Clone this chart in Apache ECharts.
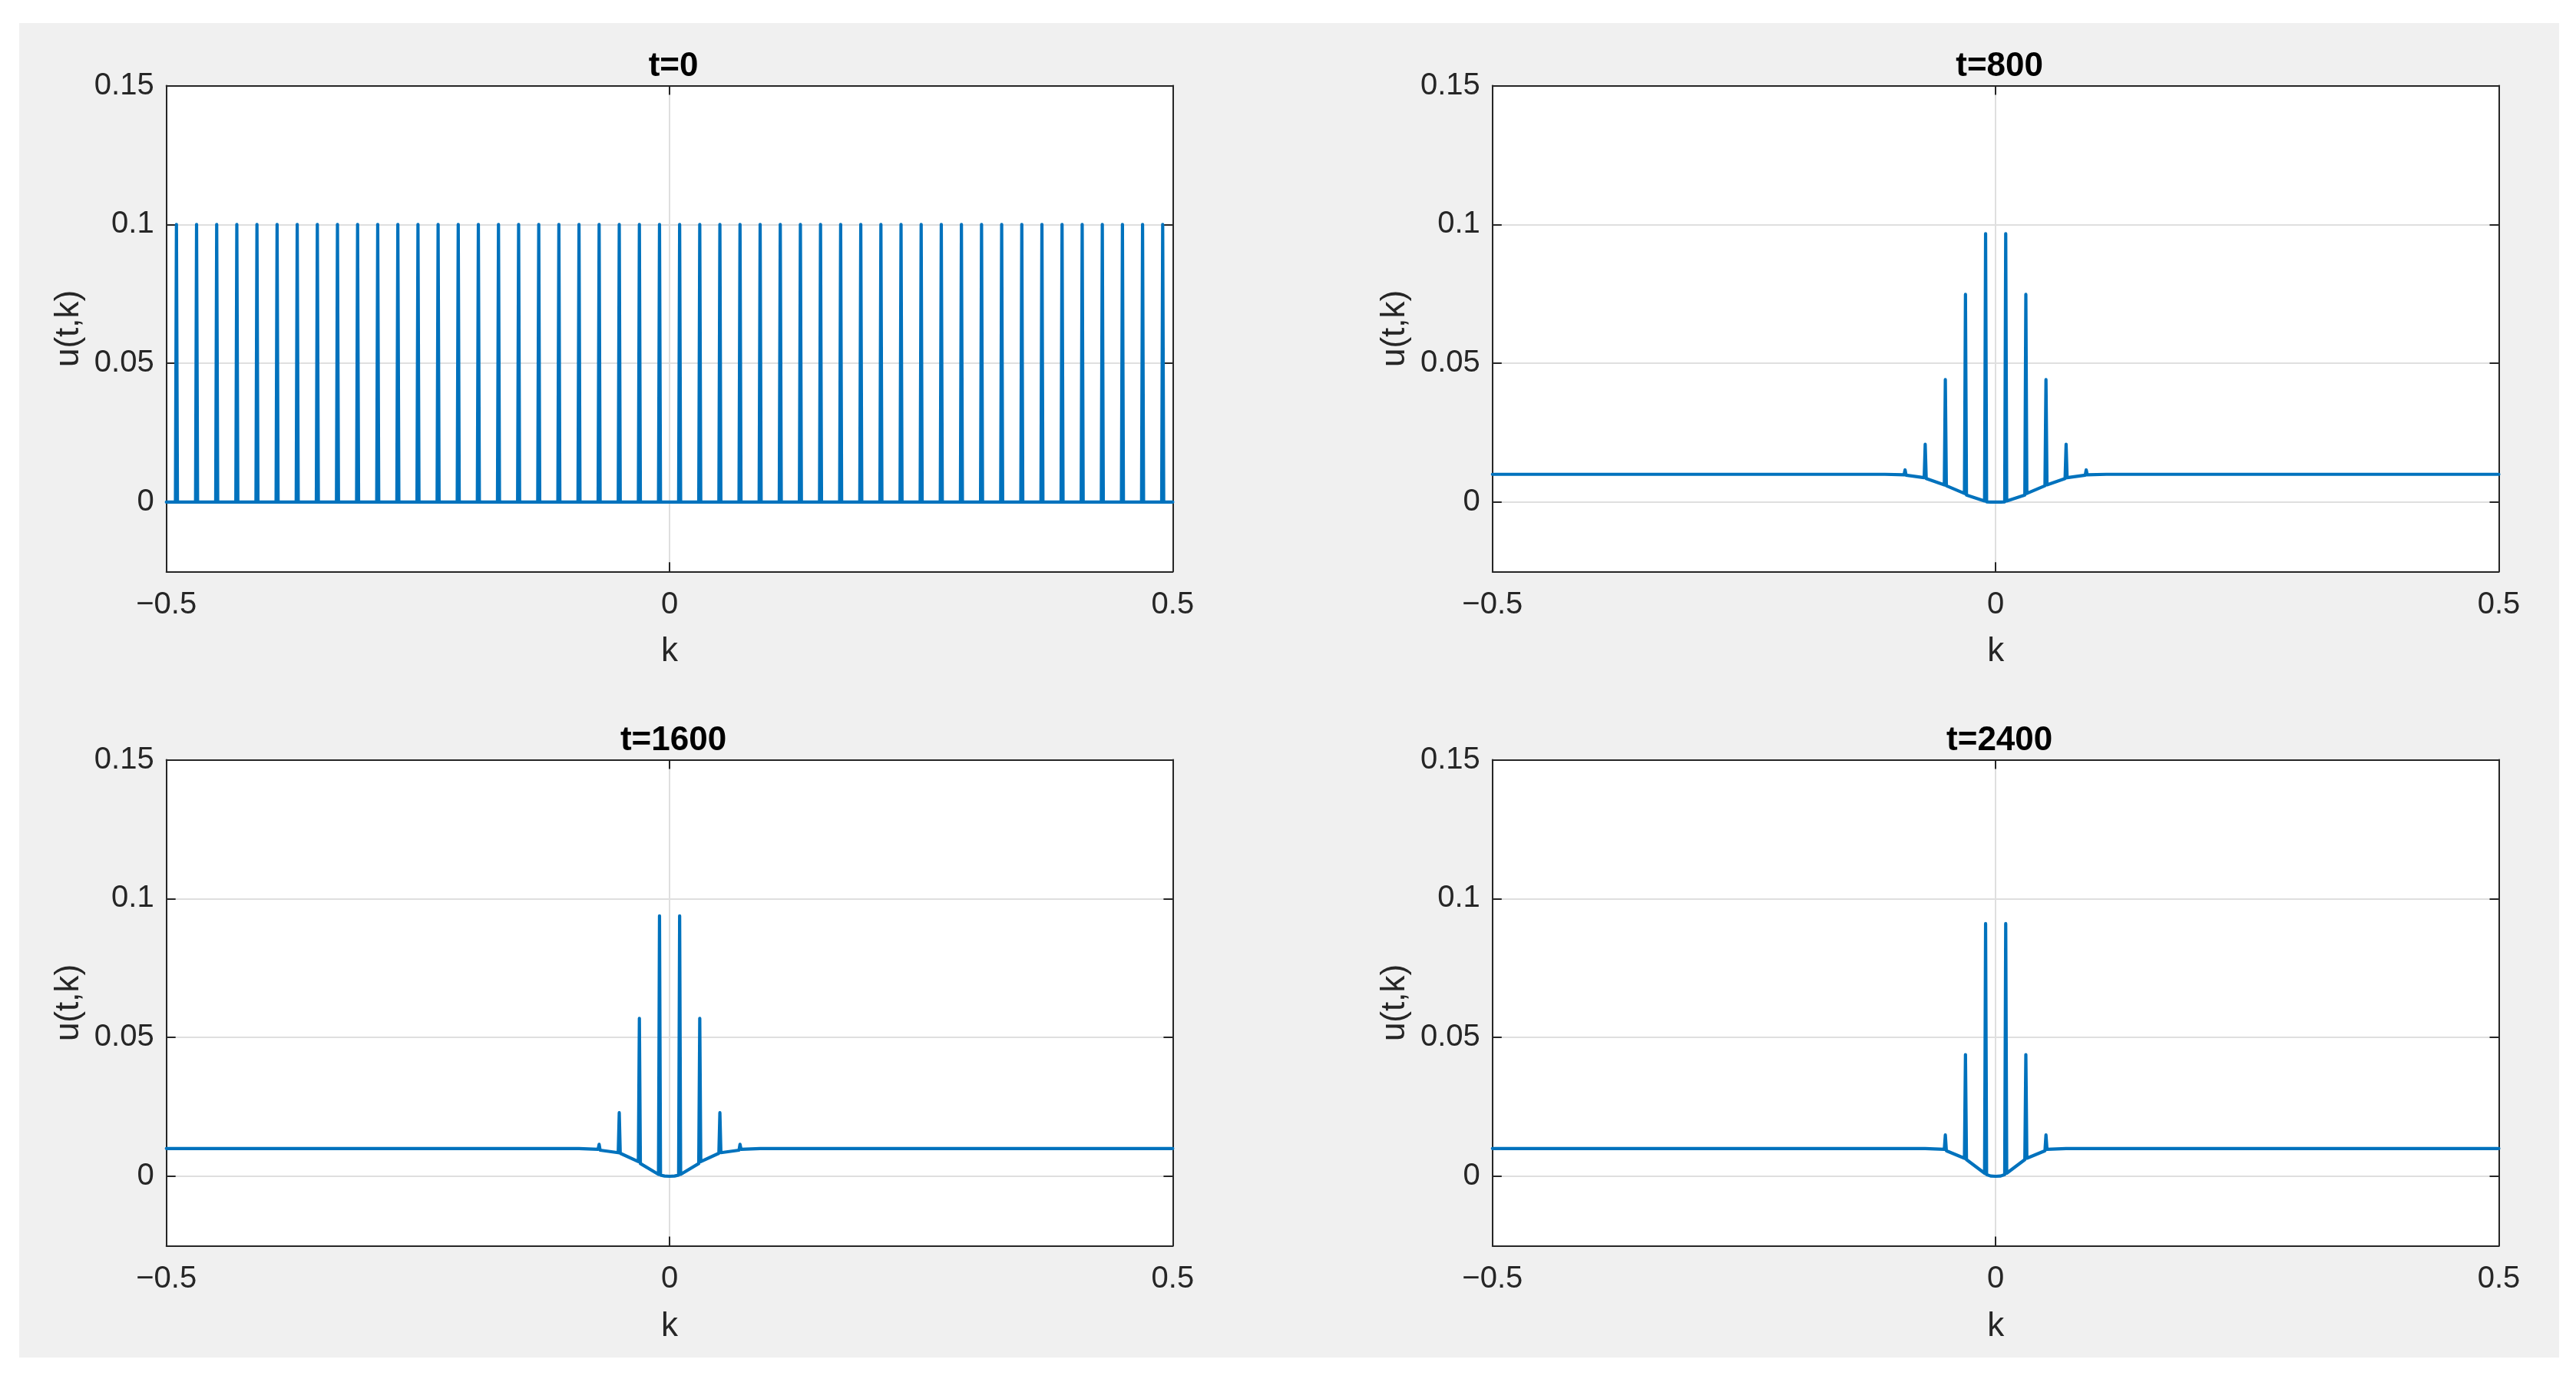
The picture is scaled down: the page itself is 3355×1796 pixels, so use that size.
<!DOCTYPE html>
<html>
<head>
<meta charset="utf-8">
<script src="https://cdn.jsdelivr.net/npm/echarts@6/dist/echarts.min.js"></script>
<style>
html,body{margin:0;padding:0;background:#fff;width:3355px;height:1796px;overflow:hidden}
#bg{position:absolute;left:25px;top:30px;width:3308px;height:1738px;background:#f0f0f0}
#main{position:absolute;left:0;top:0;width:3355px;height:1796px}
</style>
</head>
<body>
<div id="bg"></div>
<div id="main"></div>
<script>
// ---------------- data ----------------
const titles = ['t=0', 't=800', 't=1600', 't=2400'];
const xLabel = 'k';
const yLabel = 'u(t,k)';

// t = 0 : spikes of height 0.1 every 0.02
const kT0 = [-0.5,
 -0.491,-0.49,-0.489, -0.471,-0.47,-0.469, -0.451,-0.45,-0.449, -0.431,-0.43,-0.429, -0.411,-0.41,-0.409,
 -0.391,-0.39,-0.389, -0.371,-0.37,-0.369, -0.351,-0.35,-0.349, -0.331,-0.33,-0.329, -0.311,-0.31,-0.309,
 -0.291,-0.29,-0.289, -0.271,-0.27,-0.269, -0.251,-0.25,-0.249, -0.231,-0.23,-0.229, -0.211,-0.21,-0.209,
 -0.191,-0.19,-0.189, -0.171,-0.17,-0.169, -0.151,-0.15,-0.149, -0.131,-0.13,-0.129, -0.111,-0.11,-0.109,
 -0.091,-0.09,-0.089, -0.071,-0.07,-0.069, -0.051,-0.05,-0.049, -0.031,-0.03,-0.029, -0.011,-0.01,-0.009,
 0.009,0.01,0.011, 0.029,0.03,0.031, 0.049,0.05,0.051, 0.069,0.07,0.071, 0.089,0.09,0.091,
 0.109,0.11,0.111, 0.129,0.13,0.131, 0.149,0.15,0.151, 0.169,0.17,0.171, 0.189,0.19,0.191,
 0.209,0.21,0.211, 0.229,0.23,0.231, 0.249,0.25,0.251, 0.269,0.27,0.271, 0.289,0.29,0.291,
 0.309,0.31,0.311, 0.329,0.33,0.331, 0.349,0.35,0.351, 0.369,0.37,0.371, 0.389,0.39,0.391,
 0.409,0.41,0.411, 0.429,0.43,0.431, 0.449,0.45,0.451, 0.469,0.47,0.471, 0.489,0.49,0.491,
 0.5];
const uT0 = [0,
 0,0.1,0, 0,0.1,0, 0,0.1,0, 0,0.1,0, 0,0.1,0,
 0,0.1,0, 0,0.1,0, 0,0.1,0, 0,0.1,0, 0,0.1,0,
 0,0.1,0, 0,0.1,0, 0,0.1,0, 0,0.1,0, 0,0.1,0,
 0,0.1,0, 0,0.1,0, 0,0.1,0, 0,0.1,0, 0,0.1,0,
 0,0.1,0, 0,0.1,0, 0,0.1,0, 0,0.1,0, 0,0.1,0,
 0,0.1,0, 0,0.1,0, 0,0.1,0, 0,0.1,0, 0,0.1,0,
 0,0.1,0, 0,0.1,0, 0,0.1,0, 0,0.1,0, 0,0.1,0,
 0,0.1,0, 0,0.1,0, 0,0.1,0, 0,0.1,0, 0,0.1,0,
 0,0.1,0, 0,0.1,0, 0,0.1,0, 0,0.1,0, 0,0.1,0,
 0,0.1,0, 0,0.1,0, 0,0.1,0, 0,0.1,0, 0,0.1,0,
 0];

// t = 800
const kT800 = [-0.5, -0.11, -0.091, -0.09, -0.089, -0.071, -0.07, -0.069, -0.051, -0.05, -0.049,
 -0.031, -0.03, -0.029, -0.011, -0.01, -0.009, -0.005, 0,
 0.005, 0.009, 0.01, 0.011, 0.029, 0.03, 0.031, 0.049, 0.05, 0.051,
 0.069, 0.07, 0.071, 0.089, 0.09, 0.091, 0.11, 0.5];
const uT800 = [0.01, 0.01, 0.0098, 0.0116, 0.0097, 0.0088, 0.0208, 0.0085, 0.0062, 0.0441, 0.0059,
 0.0031, 0.0748, 0.0025, 0.0004, 0.0967, 0.0001, 0, 0,
 0, 0.0001, 0.0967, 0.0004, 0.0025, 0.0748, 0.0031, 0.0059, 0.0441, 0.0062,
 0.0085, 0.0208, 0.0088, 0.0097, 0.0116, 0.0098, 0.01, 0.01];

// t = 1600
const kT1600 = [-0.5, -0.09, -0.071, -0.07, -0.069, -0.051, -0.05, -0.049, -0.031, -0.03, -0.029,
 -0.011, -0.01, -0.009, -0.005, 0,
 0.005, 0.009, 0.01, 0.011, 0.029, 0.03, 0.031, 0.049, 0.05, 0.051,
 0.069, 0.07, 0.071, 0.09, 0.5];
const uT1600 = [0.01, 0.01, 0.0097, 0.0115, 0.0094, 0.0085, 0.0229, 0.0083, 0.0053, 0.0569, 0.0046,
 0.0007, 0.0938, 0.0004, 0.0001, 0,
 0.0001, 0.0004, 0.0938, 0.0007, 0.0046, 0.0569, 0.0053, 0.0083, 0.0229, 0.0085,
 0.0094, 0.0115, 0.0097, 0.01, 0.01];

// t = 2400
const kT2400 = [-0.5, -0.07, -0.051, -0.05, -0.049, -0.031, -0.03, -0.029, -0.011, -0.01, -0.009, -0.005, 0,
 0.005, 0.009, 0.01, 0.011, 0.029, 0.03, 0.031, 0.049, 0.05, 0.051, 0.07, 0.5];
const uT2400 = [0.01, 0.01, 0.0097, 0.0149, 0.0092, 0.0065, 0.0438, 0.006, 0.0011, 0.091, 0.0006, 0.0001, 0,
 0.0001, 0.0006, 0.091, 0.0011, 0.006, 0.0438, 0.0065, 0.0092, 0.0149, 0.0097, 0.01, 0.01];

const xTicksMin = -0.5, xTicksMax = 0.5, xTickStep = 0.5;
const yMin = -0.025, yMax = 0.15;

// ---------------- layout / style ----------------
const FONT = "'Liberation Sans', Arial, Helvetica, sans-serif";
const AX = '#262626';
const GRIDC = '#dfdfdf';
const LINEC = '#0072BD';

const kArrays = [kT0, kT800, kT1600, kT2400];
const uArrays = [uT0, uT800, uT1600, uT2400];
const boxes = [
  {left: 216.7, top: 111.5},
  {left: 1943.8, top: 111.5},
  {left: 216.7, top: 989.6},
  {left: 1943.8, top: 989.6}
];
const W = 1310.7, H = 632.8;

const fmt = v => String(+v.toFixed(3)).replace('-', '\u2212');

const grids = [], xAxes = [], yAxes = [], series = [], titleOpts = [];
const axLine = {onZero: false, show: true, lineStyle: {color: AX, width: 2}};
const axTick = {show: true, inside: true, length: 12, lineStyle: {color: AX, width: 2}};
const lblStyle = {color: AX, fontSize: 40, fontFamily: FONT};

boxes.forEach((b, g) => {
  grids.push({left: b.left, top: b.top, width: W, height: H, show: true,
    backgroundColor: '#ffffff', borderWidth: 0, containLabel: false});
  xAxes.push({
    gridIndex: g, type: 'value', position: 'bottom', min: xTicksMin, max: xTicksMax, interval: xTickStep,
    axisLine: axLine, axisTick: axTick,
    axisLabel: Object.assign({margin: 24, formatter: fmt}, lblStyle),
    splitLine: {show: true, lineStyle: {color: GRIDC, width: 2}},
    name: xLabel, nameLocation: 'middle', nameGap: 83,
    nameTextStyle: {fontSize: 44, color: AX, fontFamily: FONT}
  });
  xAxes.push({
    gridIndex: g, type: 'value', position: 'top', min: xTicksMin, max: xTicksMax, interval: xTickStep,
    axisLine: axLine, axisTick: axTick, axisLabel: {show: false}, splitLine: {show: false}
  });
  yAxes.push({
    gridIndex: g, type: 'value', position: 'left', min: yMin, max: yMax, splitNumber: 3,
    axisLine: axLine, axisTick: axTick,
    axisLabel: Object.assign({margin: 16, formatter: v => (v < -0.001 ? '' : fmt(v))}, lblStyle),
    splitLine: {show: true, lineStyle: {color: GRIDC, width: 2}},
    name: yLabel, nameLocation: 'middle', nameGap: 105,
    nameTextStyle: {fontSize: 44, color: AX, fontFamily: FONT}
  });
  yAxes.push({
    gridIndex: g, type: 'value', position: 'right', min: yMin, max: yMax, splitNumber: 3,
    axisLine: axLine, axisTick: axTick, axisLabel: {show: false}, splitLine: {show: false}
  });
  const k = kArrays[g], u = uArrays[g];
  series.push({
    type: 'line', xAxisIndex: 2 * g, yAxisIndex: 2 * g,
    data: k.map((kv, i) => [kv, u[i]]),
    showSymbol: false, symbol: 'none', smooth: false,
    lineStyle: {color: LINEC, width: 4.2, join: 'round', cap: 'round'},
    z: 3, animation: false
  });
  titleOpts.push({
    text: titles[g], left: b.left + W / 2, top: b.top - 52, textAlign: 'center',
    textStyle: {fontSize: 44, fontWeight: 'bold', color: '#000', fontFamily: FONT}
  });
});

const chart = echarts.init(document.getElementById('main'), null, {renderer: 'canvas'});
chart.setOption({
  backgroundColor: 'transparent',
  animation: false,
  title: titleOpts,
  grid: grids,
  xAxis: xAxes,
  yAxis: yAxes,
  series: series
});
</script>
</body>
</html>
